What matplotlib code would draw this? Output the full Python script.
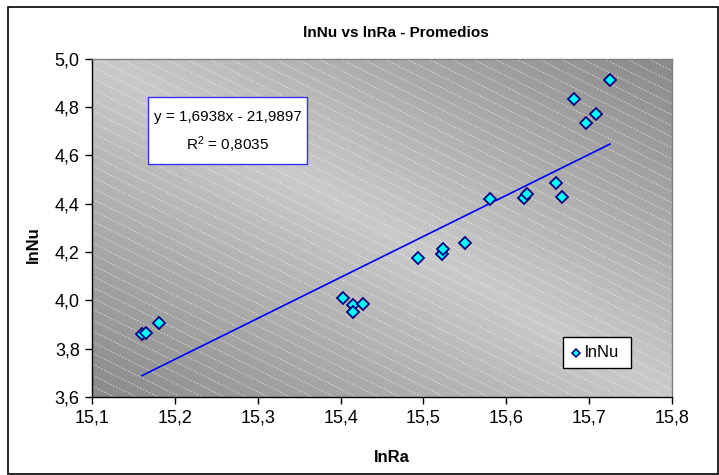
import numpy as np
import matplotlib
matplotlib.use("Agg")
import matplotlib.pyplot as plt
from matplotlib.patches import Rectangle
from matplotlib.lines import Line2D

plt.rcParams['font.family'] = ['Liberation Sans', 'DejaVu Sans']
plt.rcParams['mathtext.fontset'] = 'custom'
plt.rcParams['mathtext.rm'] = 'Liberation Sans'
plt.rcParams['mathtext.it'] = 'Liberation Sans'

# ---- data ----
ln_ra = [15.160, 15.165, 15.181, 15.4025, 15.4146, 15.4146, 15.4267, 15.494,
         15.522, 15.524, 15.550, 15.581, 15.622, 15.625, 15.660, 15.668,
         15.682, 15.696, 15.708, 15.7255]
ln_nu = [3.861, 3.866, 3.908, 4.009, 3.981, 3.953, 3.985, 4.175,
         4.192, 4.212, 4.237, 4.419, 4.423, 4.440, 4.487, 4.426,
         4.834, 4.735, 4.771, 4.912]
slope = 1.6938
intercept = -21.9897
r2 = 0.8035
x_ticks = [15.1, 15.2, 15.3, 15.4, 15.5, 15.6, 15.7, 15.8]
y_ticks = [3.6, 3.8, 4.0, 4.2, 4.4, 4.6, 4.8, 5.0]
title = "lnNu vs lnRa - Promedios"
x_label = "lnRa"
y_label = "lnNu"
series_name = "lnNu"

W, H = 719, 475
fig = plt.figure(figsize=(W / 100, H / 100), dpi=100)
fig.patch.set_facecolor('white')

def fx(px):
    return px / W

def fy(py):
    return 1 - py / H

L, R, T, B = 92.3, 671.7, 58.5, 397.0
ax = fig.add_axes([fx(L), fy(B), (R - L) / W, (B - T) / H])

# gradient background (dark at bottom-left and top-right corners)
n = 300
u = np.linspace(0, 1, n)
U, V = np.meshgrid(u, u)
g = 1 - np.abs(U + V - 1)
dark, light = 0.54, 0.79
Z = dark + (light - dark) * g
ax.imshow(Z, extent=[0, 1, 0, 1], transform=ax.transAxes, origin='lower',
          cmap='gray', vmin=0, vmax=1, aspect='auto', zorder=0,
          interpolation='bilinear')

# diagonal dashed white stripes (pattern)
pw, ph = R - L, B - T
spacing = 11.0
sl = 0.5
for c in np.arange(0, ph + sl * pw + spacing, spacing):
    xs = np.array([0, pw])
    ys = c - sl * xs
    ax.plot(xs / pw, ys / ph, transform=ax.transAxes, color='white',
            lw=0.8, alpha=0.5, ls=(0, (1.5, 1.5)), zorder=0.5, clip_on=True)

# data
ax.plot(ln_ra, ln_nu, ls='none', marker='D', ms=6, mfc='#00FFFF',
        mec='#000080', mew=1.3, zorder=3)

xf = np.array([min(ln_ra), max(ln_ra)])
ax.plot(xf, slope * xf + intercept, color='#0000FF', lw=1.2, zorder=2)

ax.set_xlim(15.1, 15.8)
ax.set_ylim(3.6, 5.0)
ax.set_xticks(x_ticks)
ax.set_yticks(y_ticks)
ax.set_xticklabels([f"{v:.1f}".replace('.', ',') for v in x_ticks])
ax.set_yticklabels([f"{v:.1f}".replace('.', ',') for v in y_ticks])
ax.tick_params(direction='out', length=5, width=1, labelsize=13, pad=4,
               colors='black')
for s in ['left', 'bottom']:
    ax.spines[s].set_color('black')
    ax.spines[s].set_linewidth(1)
for s in ['top', 'right']:
    ax.spines[s].set_color('#808080')
    ax.spines[s].set_linewidth(1)

# title and axis labels
fig.text(fx(396), fy(33), title, ha='center', va='center', fontsize=11,
         fontweight='bold')
fig.text(fx(392), fy(457), x_label, ha='center', va='center', fontsize=12,
         fontweight='bold')
fig.text(fx(33), fy(245), y_label, ha='center', va='center', fontsize=12,
         fontweight='bold', rotation=90)

# equation box
bx0, by0, bx1, by1 = 148, 97, 307, 164
fig.patches.append(Rectangle((fx(bx0), fy(by1)), (bx1 - bx0) / W, (by1 - by0) / H,
                             transform=fig.transFigure, facecolor='white',
                             edgecolor='#3333FF', lw=1, zorder=5))
eq1 = f"y = {slope:.4f}x - {abs(intercept):.4f}".replace('.', ',')
eq2 = "R$^2$ = " + f"{r2:.4f}".replace('.', ',')
fig.text(fx((bx0 + bx1) / 2), fy(117), eq1, ha='center', va='center',
         fontsize=11, zorder=6)
fig.text(fx((bx0 + bx1) / 2), fy(145), eq2, ha='center', va='center',
         fontsize=11, zorder=6)

# legend box
lx0, ly0, lx1, ly1 = 563, 337, 631, 368
fig.patches.append(Rectangle((fx(lx0), fy(ly1)), (lx1 - lx0) / W, (ly1 - ly0) / H,
                             transform=fig.transFigure, facecolor='white',
                             edgecolor='black', lw=1, zorder=5))
fig.lines.append(Line2D([fx(576)], [fy(352.5)], transform=fig.transFigure,
                        marker='D', ms=4.5, mfc='#00FFFF', mec='#000080',
                        mew=1.1, ls='none', zorder=6))
fig.text(fx(585), fy(352.5), series_name, ha='left', va='center',
         fontsize=12, zorder=6)

# outer chart border
fig.patches.append(Rectangle((fx(8), fy(474)), (718 - 8) / W, (474 - 7) / H,
                             transform=fig.transFigure, facecolor='none',
                             edgecolor='black', lw=1.2, zorder=10))

fig.savefig('out.png', dpi=100)
